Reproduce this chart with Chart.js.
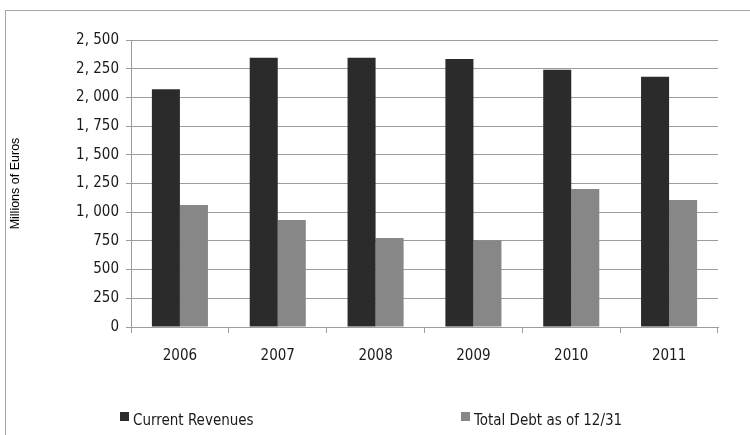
<!DOCTYPE html>
<html>
<head>
<meta charset="utf-8">
<script src="https://cdn.jsdelivr.net/npm/chart.js@4.4.1/dist/chart.umd.min.js"></script>
<style>
  html, body { margin: 0; padding: 0; background: #ffffff; }
  #wrap { position: relative; width: 750px; height: 435px; }
</style>
</head>
<body>
<div id="wrap"><canvas id="chart" width="750" height="435"></canvas></div>
<script>
// Revenues and year-end debt, millions of euros
const years = ['2006', '2007', '2008', '2009', '2010', '2011'];
const currentRevenues = [2070, 2345, 2345, 2335, 2240, 2180];
const totalDebt = [1063, 932, 775, 755, 1202, 1106];
const seriesNames = ['Current Revenues', 'Total Debt as of 12/31'];
const yTickValues = [0, 250, 500, 750, 1000, 1250, 1500, 1750, 2000, 2250, 2500];
const yAxisTitle = 'Millions of Euros';

const COLORS = ['#2b2b2b', '#878787'];
const NARROW = "'Liberation Sans Narrow', 'Arial Narrow', 'DejaVu Sans Condensed', sans-serif";
const GRID = '#9c9c9c';

// thousands separated by ", " as in the printed report
function formatTick(v) {
  if (v < 1000) return String(v);
  const rest = String(v % 1000).padStart(3, '0');
  return Math.floor(v / 1000) + ', ' + rest;
}

// frame around the whole figure and the legend below the axis
const framePlugin = {
  id: 'frame',
  afterDraw(chart) {
    const ctx = chart.ctx;
    ctx.save();
    ctx.strokeStyle = '#a6a6a6';
    ctx.lineWidth = 1;
    ctx.strokeRect(5.5, 10.5, 800, 500);

    const legendSlots = [{ x: 120 }, { x: 461 }];
    const y = 412;
    ctx.font = '15px ' + NARROW;
    ctx.textBaseline = 'middle';
    ctx.textAlign = 'left';
    chart.data.datasets.forEach((ds, i) => {
      const slot = legendSlots[i];
      ctx.fillStyle = ds.backgroundColor;
      ctx.fillRect(slot.x, y, 9, 9);
      ctx.fillStyle = '#1a1a1a';
      ctx.fillText(ds.label, slot.x + 13, y + 9);
    });
    ctx.restore();
  }
};

new Chart(document.getElementById('chart'), {
  type: 'bar',
  data: {
    labels: years,
    datasets: [
      { label: seriesNames[0], data: currentRevenues, backgroundColor: COLORS[0] },
      { label: seriesNames[1], data: totalDebt, backgroundColor: COLORS[1] }
    ]
  },
  options: {
    responsive: false,
    animation: false,
    devicePixelRatio: 1,
    layout: { padding: { top: 40, right: 32, bottom: 68, left: 0 } },
    datasets: {
      bar: { categoryPercentage: 0.573, barPercentage: 1.0, borderWidth: 0 }
    },
    plugins: {
      legend: { display: false },
      tooltip: { enabled: false }
    },
    scales: {
      x: {
        offset: true,
        grid: { display: true, drawOnChartArea: false, drawTicks: true, tickLength: 6, color: GRID, offset: true },
        border: { display: true, color: GRID },
        ticks: { font: { family: NARROW, size: 15 }, color: '#1a1a1a', padding: 14, maxRotation: 0 },
        afterFit(scale) { scale.height = 40; }
      },
      y: {
        min: 0,
        max: 2500,
        afterBuildTicks(scale) { scale.ticks = yTickValues.map(v => ({ value: v })); },
        grid: { color: GRID, tickLength: 5, drawTicks: true },
        border: { display: true, color: GRID },
        ticks: { font: { family: NARROW, size: 15 }, color: '#1a1a1a', padding: 7, callback: v => formatTick(v) },
        title: {
          display: true,
          text: yAxisTitle,
          font: { family: "'Liberation Sans', Arial, sans-serif", size: 12.5 },
          color: '#000000',
          padding: { top: 8, bottom: 0 }
        },
        afterFit(scale) { scale.width = 131; }
      }
    }
  },
  plugins: [framePlugin]
});
</script>
</body>
</html>
